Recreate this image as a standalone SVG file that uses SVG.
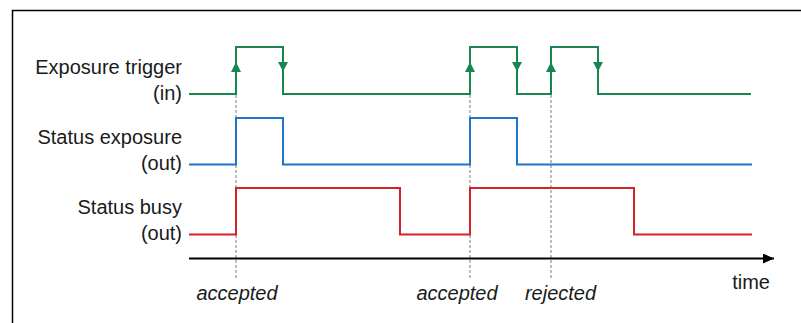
<svg xmlns="http://www.w3.org/2000/svg" width="801" height="323" viewBox="0 0 801 323">
<style>
.lbl{font-family:"Liberation Sans",Arial,sans-serif;font-size:20px;fill:#1a1a1a;text-anchor:end}
.ev{font-family:"Liberation Sans",Arial,sans-serif;font-size:20px;font-style:italic;fill:#1a1a1a;text-anchor:middle}
.sig{fill:none;stroke-width:2;stroke-linejoin:miter}
.g{stroke:#17874f}
.b{stroke:#1b76c9}
.r{stroke:#d2232a}
.dash{stroke:#9a9a9a;stroke-width:1.3;stroke-dasharray:3 2;fill:none}
.ga{fill:#17874f}
</style>
<defs>
<marker id="axisArrow" markerWidth="12" markerHeight="12" refX="11" refY="5" orient="auto" markerUnits="userSpaceOnUse">
<path d="M0,0 L11,5 L0,10 Z" fill="#000"/>
</marker>
</defs>
<rect x="0" y="0" width="801" height="323" fill="#fff"/>
<path d="M12.5,323 V10.5 H801" fill="none" stroke="#000" stroke-width="1.5"/>

<g id="connectors">
<path class="dash" d="M236,95 V280 M470,95 V280 M551,95 V280"/>
<line x1="189" y1="258.5" x2="774" y2="258.5" stroke="#000" stroke-width="2" marker-end="url(#axisArrow)"/>
</g>

<g id="exposure-trigger">
<text class="lbl" x="182" y="74">Exposure trigger</text>
<text class="lbl" x="182" y="99.5">(in)</text>
<path class="sig g" d="M189,94 H236 V47 H283 V94 H470 V47 H517 V94 H551 V47 H598 V94 H751"/>
<path class="ga" d="M236,62 L241,72 L231,72 Z M470,62 L475,72 L465,72 Z M551,62 L556,72 L546,72 Z M278,62 L288,62 L283,71.5 Z M512,62 L522,62 L517,71.5 Z M593,62 L603,62 L598,71.5 Z"/>
</g>

<g id="status-exposure">
<text class="lbl" x="182" y="144">Status exposure</text>
<text class="lbl" x="182" y="169.5">(out)</text>
<path class="sig b" d="M189,164.5 H236 V118 H283 V164.5 H470 V118 H517 V164.5 H752"/>
</g>

<g id="status-busy">
<text class="lbl" x="182" y="214">Status busy</text>
<text class="lbl" x="182" y="239.5">(out)</text>
<path class="sig r" d="M189,234.5 H236 V188 H400 V234.5 H470 V188 H634 V234.5 H752"/>
</g>

<g id="labels">
<text class="ev" x="237" y="300">accepted</text>
<text class="ev" x="457" y="300">accepted</text>
<text class="ev" x="560.5" y="300">rejected</text>
<text class="lbl" x="770" y="288.5">time</text>
</g>
</svg>
